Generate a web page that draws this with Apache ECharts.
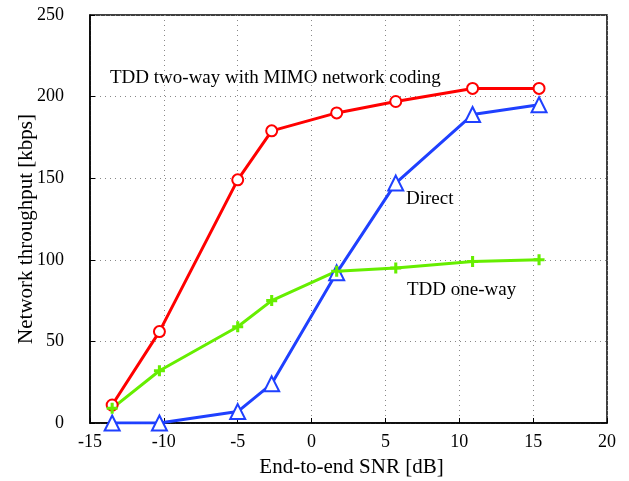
<!DOCTYPE html>
<html><head><meta charset="utf-8">
<script src="https://cdn.jsdelivr.net/npm/echarts@6/dist/echarts.min.js"></script>
<style>html,body{margin:0;padding:0;background:#fff}#c{width:629px;height:481px}</style>
</head><body><div id="c"></div>
<script>
const snr = [-13.5, -10.3, -5, -2.7, 1.7, 5.7, 10.9, 15.4];
const twoWayMimo = [11, 56, 149, 179, 190, 197, 205, 205];
const direct = [0, 0, 7, 24, 92, 147, 189, 195];
const oneWay = [9, 32, 59, 75, 93, 95, 99, 100];
const xTicks = [-15, -10, -5, 0, 5, 10, 15, 20];
const yTicks = [0, 50, 100, 150, 200, 250];
const labels = ['TDD two-way with MIMO network coding', 'Direct', 'TDD one-way'];

const font = 'Liberation Serif, Times New Roman, serif';
const pairs = (ys) => snr.map((x, i) => [x, ys[i]]);
const plus = 'path://M3.6,0H6.4V3.6H10V6.4H6.4V10H3.6V6.4H0V3.6H3.6Z';

const chart = echarts.init(document.getElementById('c'));
chart.setOption({
  animation: false,
  grid: {left: 90, right: 22, top: 15, bottom: 58, show: true, borderColor: '#000', borderWidth: 1.5,
         containLabel: false, outerBoundsMode: 'none'},
  xAxis: {
    type: 'value', min: -15, max: 20, interval: 5,
    axisLine: {show: true, onZero: false, lineStyle: {color: '#000', width: 1.5}},
    axisTick: {show: true, inside: true, length: 5, lineStyle: {color: '#000'}},
    splitLine: {show: true, lineStyle: {color: '#888', type: [1, 4], width: 1}},
    axisLabel: {color: '#000', fontFamily: font, fontSize: 18, margin: 10,
                formatter: (v) => xTicks.includes(v) ? String(v) : ''},
    name: 'End-to-end SNR [dB]', nameLocation: 'middle', nameGap: 34, nameMoveOverlap: false,
    nameTextStyle: {color: '#000', fontFamily: font, fontSize: 21, padding: [0, 0, 0, 6]}
  },
  yAxis: {
    type: 'value', min: 0, max: 250, interval: 50,
    axisLine: {show: true, onZero: false, lineStyle: {color: '#000', width: 1.5}},
    axisTick: {show: true, inside: true, length: 5, lineStyle: {color: '#000'}},
    splitLine: {show: true, lineStyle: {color: '#888', type: [1, 4], width: 1}},
    axisLabel: {color: '#000', fontFamily: font, fontSize: 18, margin: 26,
                formatter: (v) => yTicks.includes(v) ? String(v) : ''},
    name: 'Network throughput [kbps]', nameLocation: 'middle', nameGap: 53, nameMoveOverlap: false,
    nameTextStyle: {color: '#000', fontFamily: font, fontSize: 21, padding: [0, 20, 0, 0]}
  },
  series: [
    {type: 'line', data: pairs(twoWayMimo), symbol: 'emptyCircle', symbolSize: 11,
     lineStyle: {color: '#ff0000', width: 3}, itemStyle: {color: '#ff0000', borderWidth: 2.5}},
    {type: 'line', data: pairs(direct), symbol: 'emptyTriangle', symbolSize: 15,
     lineStyle: {color: '#1f40ff', width: 3}, itemStyle: {color: '#1f40ff', borderWidth: 2.5}},
    {type: 'line', data: pairs(oneWay), symbol: plus, symbolSize: 11,
     lineStyle: {color: '#66ee00', width: 3}, itemStyle: {color: '#66ee00'}}
  ],
  graphic: [
    {type: 'text', x: 110, y: 78, style: {text: labels[0], font: '19px ' + font, fill: '#000', verticalAlign: 'middle'}},
    {type: 'text', x: 406, y: 199, style: {text: labels[1], font: '19px ' + font, fill: '#000', verticalAlign: 'middle'}},
    {type: 'text', x: 407, y: 290, style: {text: labels[2], font: '19px ' + font, fill: '#000', verticalAlign: 'middle'}}
  ]
});
</script></body></html>
